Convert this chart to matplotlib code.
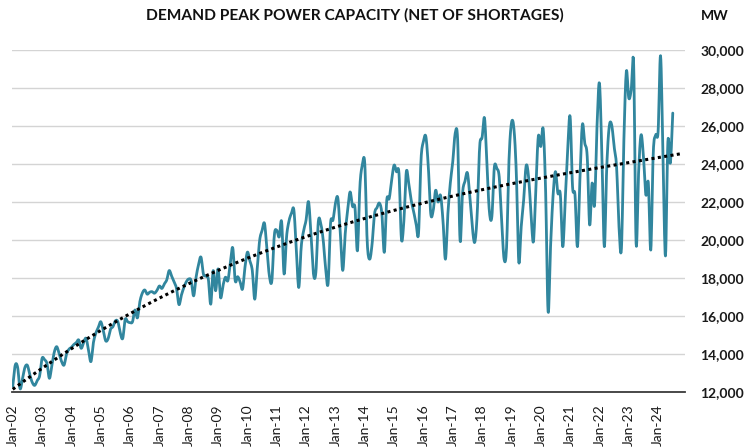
import numpy as np
import matplotlib
matplotlib.use("Agg")
import matplotlib.pyplot as plt
from matplotlib.ticker import FuncFormatter, FixedLocator

# ---- data (monthly peak demand, MW), Jan-2002 .. Jul-2024 ----
y2002 = [12300, 13400, 13300, 12175, 12700, 13300, 13400, 12900, 12500, 12350, 12600, 12850]
y2003 = [13770, 13700, 13500, 12720, 13400, 14100, 14385, 14000, 13600, 13420, 14000, 14250]
y2004 = [14350, 14500, 14600, 14740, 14300, 14600, 14825, 14200, 13600, 14600, 15100, 15400]
y2005 = [15700, 15265, 14700, 14800, 15300, 15440, 15750, 15700, 15100, 14825, 15820, 15700]
y2006 = [15650, 15700, 16315, 15900, 16750, 17200, 17370, 17150, 17250, 17280, 17200, 17350]
y2007 = [17580, 17450, 17685, 17900, 18390, 18100, 17800, 17450, 16600, 17100, 17500, 17800]
y2008 = [17950, 17860, 17060, 18040, 18700, 19100, 18210, 18100, 17950, 16620, 18390, 17330]
y2009 = [18480, 16970, 17600, 18040, 17860, 18800, 19590, 17860, 18070, 17800, 17420, 18570]
y2010 = [19360, 18900, 18390, 16885, 18480, 19980, 20500, 20870, 19450, 18100, 17860, 20250]
y2011 = [20510, 20160, 20960, 18210, 20160, 21000, 21400, 21580, 19500, 17500, 19630, 20500]
y2012 = [21050, 22020, 20300, 18230, 18300, 20960, 20870, 20000, 18500, 17700, 20870, 21050]
y2013 = [21930, 22200, 20350, 18400, 20320, 21580, 22530, 21770, 21700, 19430, 22800, 23940]
y2014 = [24030, 19900, 18990, 19790, 21380, 21700, 21940, 21380, 19350, 22090, 22180, 23150]
y2015 = [23940, 23590, 23500, 20050, 21000, 23590, 22970, 22090, 21500, 20850, 20350, 24200]
y2016 = [25180, 25440, 23850, 21380, 21550, 22620, 22000, 22350, 21020, 18990, 21380, 23000]
y2017 = [24120, 25620, 25270, 19960, 22470, 23090, 23530, 22260, 20670, 19880, 21380, 24910]
y2018 = [25400, 26410, 23850, 21470, 21240, 23820, 23760, 23320, 21020, 18990, 19600, 24200]
y2019 = [26150, 25890, 23510, 18860, 20700, 22100, 23900, 23340, 21420, 19910, 22810, 25450]
y2020 = [24920, 25830, 22500, 16220, 19650, 22280, 23600, 22460, 22400, 19650, 22110, 24740]
y2021 = [26500, 22800, 22370, 19650, 23160, 26060, 25100, 24390, 20790, 23000, 21850, 25970]
y2022 = [28260, 24500, 19650, 23870, 25970, 26060, 24920, 23870, 20700, 19560, 25270, 28870]
y2023 = [27470, 27910, 29220, 19820, 23510, 25530, 24390, 22370, 23000, 19470, 24570, 25530]
y2024 = [25710, 29700, 24390, 19160, 25180, 24040, 26680]

demand = (y2002 + y2003 + y2004 + y2005 + y2006 + y2007 + y2008 + y2009 + y2010 +
          y2011 + y2012 + y2013 + y2014 + y2015 + y2016 + y2017 + y2018 + y2019 +
          y2020 + y2021 + y2022 + y2023 + y2024)

tick_labels = ["Jan-%02d" % yy for yy in range(2, 25)]
y_ticks = [12000, 14000, 16000, 18000, 20000, 22000, 24000, 26000, 28000, 30000]
forecast_months = 4
trend_order = 3

title = "DEMAND PEAK POWER CAPACITY (NET OF SHORTAGES)"
unit = "MW"

# ---- plotting ----
plt.rcParams['font.family'] = ['Lato', 'DejaVu Sans']

W, H = 747, 448
fig = plt.figure(figsize=(W / 100, H / 100), dpi=100)
ax = fig.add_axes([12 / W, (H - 392) / H, (685 - 12) / W, (392 - 50) / H])

months = np.arange(len(demand))
vals = np.array(demand, dtype=float)


def smooth(x, y, n=8):
    """Catmull-Rom rendering of a smoothed line (like Excel's 'smoothed line')."""
    xp = np.concatenate([[x[0]], x, [x[-1]]])
    yp = np.concatenate([[y[0]], y, [y[-1]]])
    t = np.linspace(0, 1, n, endpoint=False)[:, None]
    p0, p1, p2, p3 = (yp[:-3], yp[1:-2], yp[2:-1], yp[3:])
    q0, q1, q2, q3 = (xp[:-3], xp[1:-2], xp[2:-1], xp[3:])
    def cr(a, b, c, d):
        return 0.5 * ((2 * b) + (-a + c) * t + (2 * a - 5 * b + 4 * c - d) * t ** 2
                      + (-a + 3 * b - 3 * c + d) * t ** 3)
    xs = cr(q0, q1, q2, q3).T.ravel()
    ys = cr(p0, p1, p2, p3).T.ravel()
    return np.append(xs, x[-1]), np.append(ys, y[-1])


sx, sy = smooth(months.astype(float), vals)
line_col = '#31869E'
ax.plot(sx, sy, color=line_col, lw=2.0, solid_joinstyle='round',
        solid_capstyle='round', zorder=3)

coef = np.polyfit(months, vals, trend_order)
tx = np.arange(0, len(demand) + forecast_months)
ax.plot(tx, np.polyval(coef, tx), color='black', lw=2.2,
        linestyle=(0, (1, 1.1)), dash_capstyle='butt', zorder=4)

ax.set_xlim(-0.3, 275)
ax.set_ylim(y_ticks[0], y_ticks[-1])

ax.yaxis.set_major_locator(FixedLocator(y_ticks))
ax.yaxis.set_major_formatter(FuncFormatter(lambda v, p: f"{int(v):,}"))
ax.yaxis.tick_right()
ax.tick_params(axis='y', length=0, pad=11, labelsize=10, labelcolor='#1a1a1a')
for lbl in ax.get_yticklabels():
    lbl.set_fontweight('bold')

ax.set_xticks(np.arange(0, 12 * len(tick_labels), 12))
ax.set_xticklabels(tick_labels, rotation=90, fontsize=10, color='#1a1a1a')
ax.tick_params(axis='x', length=0, pad=9)

ax.grid(axis='y', color='#D4D4D4', lw=1.0, zorder=0)
ax.set_axisbelow(True)
for s in ['top', 'left', 'right']:
    ax.spines[s].set_visible(False)
ax.spines['bottom'].set_color('#3a3a3a')
ax.spines['bottom'].set_linewidth(1.3)

fig.text(355 / W, 1 - 15 / H, title, ha='center', va='center', fontsize=11.2,
         fontweight='bold', color='#111111')
fig.text(715 / W, 1 - 16 / H, unit, ha='center', va='center', fontsize=10,
         fontweight='bold', color='#111111')

fig.savefig('out.png', dpi=100)
